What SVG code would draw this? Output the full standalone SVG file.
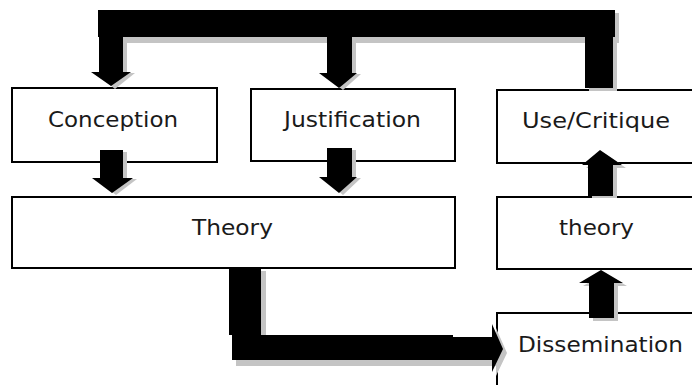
<svg xmlns="http://www.w3.org/2000/svg" width="692" height="385" viewBox="0 0 692 385">
<defs>
<style>
.box{fill:#fff;stroke:#000;stroke-width:2}
.lbl{font-family:"DejaVu Sans","Liberation Sans",sans-serif;font-size:21px;fill:#1a1a1a;text-anchor:middle}
.sh{fill:#c4c4c4}
.bk{fill:#000}
</style>
</defs>
<rect width="692" height="385" fill="#fff"/>
<g id="conception"><rect class="box" x="12" y="88" width="205" height="74"/><text class="lbl" x="113" y="127" textLength="130" lengthAdjust="spacingAndGlyphs">Conception</text></g>
<g id="justification"><rect class="box" x="251" y="89" width="204" height="72"/><text class="lbl" x="352.5" y="127" textLength="137" lengthAdjust="spacingAndGlyphs">Justification</text></g>
<g id="usecritique"><rect class="box" x="497" y="90" width="210" height="73"/><text class="lbl" x="596" y="128" textLength="148" lengthAdjust="spacingAndGlyphs">Use/Critique</text></g>
<g id="theory-main"><rect class="box" x="12" y="197" width="443" height="71"/><text class="lbl" x="232.5" y="235" textLength="81" lengthAdjust="spacingAndGlyphs">Theory</text></g>
<g id="theory-right"><rect class="box" x="497" y="197" width="210" height="72"/><text class="lbl" x="596.5" y="235" textLength="75" lengthAdjust="spacingAndGlyphs">theory</text></g>
<g id="dissemination"><rect class="box" x="497" y="313" width="210" height="90"/><text class="lbl" x="600.5" y="352" textLength="165" lengthAdjust="spacingAndGlyphs">Dissemination</text></g>
<g id="connectors">
<!-- top feedback bar -->
<rect class="sh" x="101" y="13" width="518" height="30"/>
<rect class="sh" x="589" y="40" width="28" height="51"/>
<rect class="bk" x="98" y="10" width="517" height="27"/>
<rect class="bk" x="585" y="37" width="28" height="51"/>
<!-- bar to Conception -->
<polygon class="sh" points="103,37 127,37 127,73 135,73 115,89 95,73 103,73"/>
<polygon class="bk" points="99,37 123,37 123,72 131,72 111,86 91,72 99,72"/>
<!-- bar to Justification -->
<polygon class="sh" points="331,37 356,37 356,74 361,74 343,90 323,74 331,74"/>
<polygon class="bk" points="327,37 352,37 352,73 357,73 339,88 319,73 327,73"/>
<!-- Conception to Theory -->
<polygon class="sh" points="104,152 127,152 127,179 137,179 116,195 96,179 104,179"/>
<polygon class="bk" points="100,150 123,150 123,178 133,178 112,193 92,178 100,178"/>
<!-- Justification to Theory -->
<polygon class="sh" points="331,150 356,150 356,178 361,178 343,195 323,178 331,178"/>
<polygon class="bk" points="327,148 352,148 352,177 357,177 339,193 319,177 327,177"/>
<!-- theory to Use/Critique -->
<polygon class="sh" points="604,153 626,168 617,168 617,198 592,198 592,168 586,168"/>
<polygon class="bk" points="600,150 622,165 613,165 613,196 588,196 588,165 582,165"/>
<!-- Dissemination to theory -->
<polygon class="sh" points="605,273 627,286 618,286 618,321 593,321 593,286 583,286"/>
<polygon class="bk" points="601,270 623,283 614,283 614,318 589,318 589,283 579,283"/>
<!-- Theory to Dissemination -->
<rect class="sh" x="233" y="271" width="33" height="66"/>
<polygon class="sh" points="236,340 457,340 457,341 496,341 496,328 507,353 496,376 496,366 236,366"/>
<rect class="bk" x="229" y="268" width="32" height="67"/>
<rect class="bk" x="232" y="335" width="221" height="25"/>
<polygon class="bk" points="452,337 492,337 492,324 503,349 492,372 492,360 452,360"/>
</g>
</svg>
